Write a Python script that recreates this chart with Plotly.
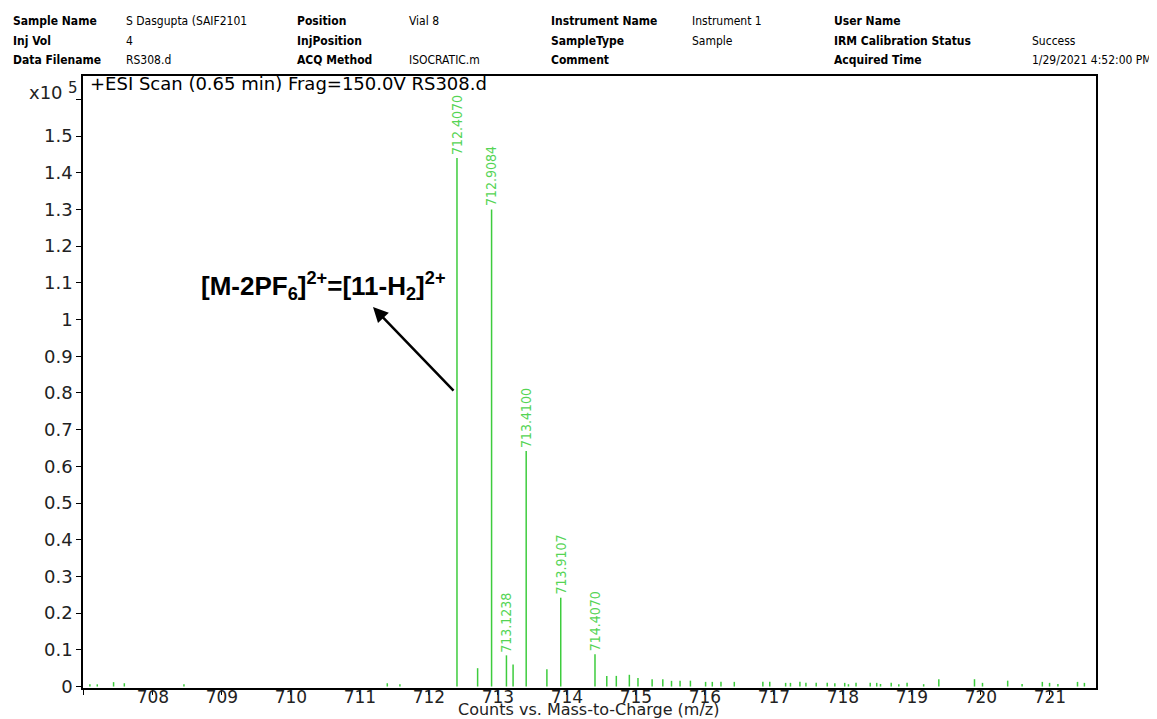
import plotly.graph_objects as go

# ---- data (counts x10^5 vs m/z) ----
mz = [707.087, 707.194, 707.43, 707.586, 708.45, 711.397, 711.58, 712.407, 712.706, 712.9084,
      713.1238, 713.22, 713.41, 713.71, 713.9107, 714.407, 714.578, 714.716, 714.905, 715.03,
      715.235, 715.39, 715.516, 715.64, 715.79, 716.01, 716.107, 716.233, 716.426, 716.84,
      716.94, 717.17, 717.24, 717.377, 717.464, 717.613, 717.773, 717.883, 718.026, 718.08,
      718.19, 718.396, 718.49, 718.545, 718.70, 718.81, 718.93, 719.17, 719.39, 719.907,
      720.023, 720.388, 720.597, 720.89, 720.995, 721.116, 721.40, 721.50]
counts = [0.006, 0.006, 0.012, 0.009, 0.006, 0.009, 0.006, 1.44, 0.05, 1.30,
          0.085, 0.06, 0.642, 0.047, 0.242, 0.088, 0.029, 0.029, 0.032, 0.023,
          0.020, 0.020, 0.0155, 0.0155, 0.016, 0.0127, 0.0127, 0.0127, 0.0127, 0.0127,
          0.0127, 0.010, 0.010, 0.0127, 0.010, 0.010, 0.010, 0.009, 0.010, 0.0064,
          0.010, 0.010, 0.010, 0.007, 0.010, 0.0064, 0.010, 0.0064, 0.020, 0.020,
          0.010, 0.016, 0.007, 0.0127, 0.010, 0.007, 0.0127, 0.010]

labelled_mz = [712.4070, 712.9084, 713.1238, 713.4100, 713.9107, 714.4070]
labelled_text = ["712.4070", "712.9084", "713.1238", "713.4100", "713.9107", "714.4070"]

x_tickvals = [707, 708, 709, 710, 711, 712, 713, 714, 715, 716, 717, 718, 719, 720, 721]
x_ticktext = [" ", "708", "709", "710", "711", "712", "713", "714", "715", "716", "717", "718", "719", "720", "721"]
y_tickvals = [0, 0.1, 0.2, 0.3, 0.4, 0.5, 0.6, 0.7, 0.8, 0.9, 1.0, 1.1, 1.2, 1.3, 1.4, 1.5, 1.6]
y_ticktext = ["0", "0.1", "0.2", "0.3", "0.4", "0.5", "0.6", "0.7", "0.8", "0.9", "1", "1.1", "1.2", "1.3", "1.4", "1.5", " "]

header_rows = [
    ["Sample Name", "S Dasgupta (SAIF2101", "Position", "Vial 8", "Instrument Name", "Instrument 1", "User Name", ""],
    ["Inj Vol", "4", "InjPosition", "", "SampleType", "Sample", "IRM Calibration Status", "Success"],
    ["Data Filename", "RS308.d", "ACQ Method", "ISOCRATIC.m", "Comment", "", "Acquired Time", "1/29/2021 4:52:00 PM"],
]

# ---- layout geometry (page pixels; the page body adds an 8 px offset) ----
OFF = 8
W, H = 1157 - OFF, 719 - OFF
L, R, T, B = 83, 1096, 76, 688
PW, PH = R - L, B - T

def px(xp):
    return (xp - L) / PW

def py(yp):
    return (B - yp) / PH

LINE = "#3dcc3d"
LABEL = "#55d455"

sx, sy = [], []
for m, c in zip(mz, counts):
    sx += [m, m, None]
    sy += [0, c, None]

fig = go.Figure()
fig.add_trace(go.Scatter(x=sx, y=sy, mode="lines", line=dict(color=LINE, width=1.5),
                         hoverinfo="skip", showlegend=False))

ann = []
# peak labels
for m, t in zip(labelled_mz, labelled_text):
    i = min(range(len(mz)), key=lambda k: abs(mz[k] - m))
    ann.append(dict(x=mz[i], y=counts[i], xref="x", yref="y", text=t, textangle=-90,
                    showarrow=False, xanchor="center", yanchor="bottom", yshift=1,
                    font=dict(family="DejaVu Sans Condensed, Arial", size=14, color=LABEL)))

# header
col_x = [11, 124, 295, 407, 549, 690, 832, 1030]
row_y = [21, 41, 60]
for r, row in enumerate(header_rows):
    for c, txt in enumerate(row):
        if not txt:
            continue
        bold = c % 2 == 0
        ann.append(dict(x=px(col_x[c]), y=py(row_y[r]), xref="paper", yref="paper",
                        text=f"<b>{txt}</b>" if bold else txt, showarrow=False,
                        xanchor="left", yanchor="middle",
                        font=dict(family="DejaVu Sans Condensed, Arial", size=12, color="black")))

# scan title
ann.append(dict(x=px(88), y=py(84), xref="paper", yref="paper",
                text="+ESI Scan (0.65 min) Frag=150.0V RS308.d", showarrow=False,
                xanchor="left", yanchor="middle",
                font=dict(family="DejaVu Sans, Arial", size=18, color="black")))
# x10^5
ann.append(dict(x=px(65), y=py(92), xref="paper", yref="paper",
                text="x10", showarrow=False, xanchor="right", yanchor="middle",
                font=dict(family="DejaVu Sans, Arial", size=18, color="#222")))
ann.append(dict(x=px(66), y=py(88), xref="paper", yref="paper",
                text="5", showarrow=False, xanchor="left", yanchor="middle",
                font=dict(family="DejaVu Sans, Arial", size=15, color="#222")))
# x axis title
ann.append(dict(x=px(588), y=py(720), xref="paper", yref="paper",
                text="Counts vs. Mass-to-Charge (m/z)", showarrow=False,
                xanchor="center", yanchor="bottom", borderpad=0,
                font=dict(family="DejaVu Sans, Arial", size=16, color="#222")))

# assignment text + arrow
ann.append(dict(x=710.47, y=1.09, xref="x", yref="y",
                text="<b>[M-2PF<sub>6</sub>]<sup>2+</sup>=[11-H<sub>2</sub>]<sup>2+</sup></b>",
                showarrow=False, xanchor="center", yanchor="middle",
                font=dict(family="Arial", size=26, color="black")))
ann.append(dict(x=711.19, y=1.034, xref="x", yref="y", ax=712.378, ay=0.802,
                axref="x", ayref="y", text="", showarrow=True,
                arrowhead=2, arrowsize=1.2, arrowwidth=2.5, arrowcolor="black"))

axis_font = dict(family="DejaVu Sans, Arial", size=18, color="#222")
fig.update_layout(
    width=W, height=H,
    margin=dict(l=L - OFF, r=W - (R - OFF), t=T - OFF, b=H - (B - OFF), pad=0, autoexpand=False),
    paper_bgcolor="white", plot_bgcolor="white",
    annotations=ann,
    xaxis=dict(range=[706.987, 721.668], tickvals=x_tickvals, ticktext=x_ticktext, automargin=False,
               ticklabelstandoff=-12,
               showgrid=False, zeroline=False, showline=True, linecolor="black", linewidth=1.5,
               mirror=True, ticks="outside", ticklen=5, tickcolor="black",
               tickfont=dict(family="DejaVu Sans, Arial", size=17, color="#222")),
    yaxis=dict(range=[-0.004, 1.6635], tickvals=y_tickvals, ticktext=y_ticktext, automargin=False,
               showgrid=False, zeroline=False, showline=True, linecolor="black", linewidth=1.5,
               mirror=True, ticks="outside", ticklen=5, tickcolor="black", tickfont=axis_font),
)

fig.write_html("out.html")
